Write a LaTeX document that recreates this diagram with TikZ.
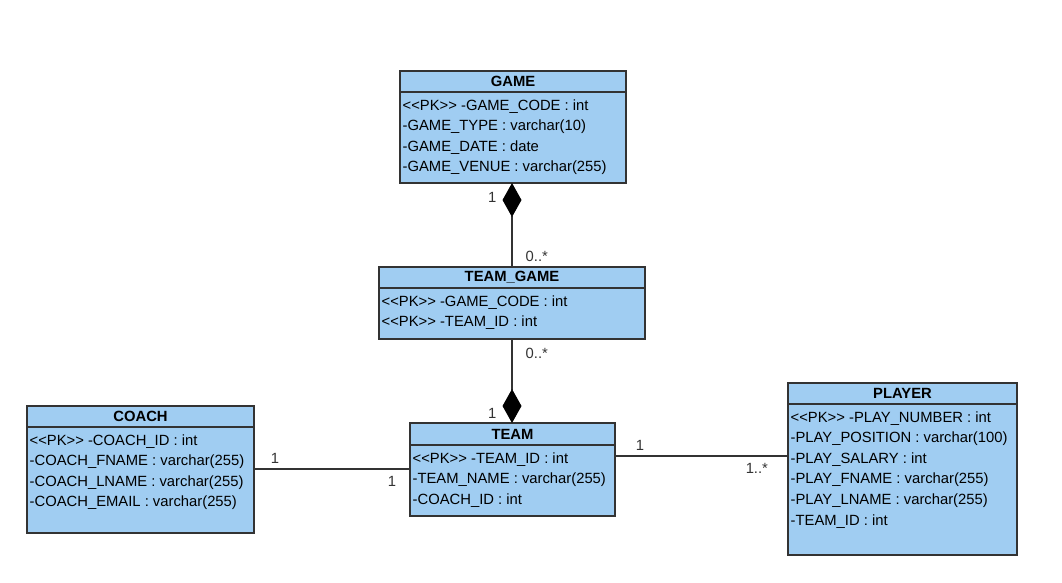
\documentclass[tikz,border=0pt]{standalone}
\usepackage{fontspec}
\setmainfont{Liberation Sans}
\usepackage{tikz}
\usetikzlibrary{positioning}
\usetikzlibrary{arrows.meta}
\definecolor{classblue}{HTML}{A0CDF2}
\definecolor{edge}{HTML}{333333}

\begin{document}
\begin{tikzpicture}[x = 1pt, y = -1pt, line width = 1.3pt,
        head/.style = {rectangle, draw = edge, fill = classblue, outer sep = 0pt, inner sep = 0pt, minimum height = 21pt, font = \fontsize{14.8}{17}\selectfont\bfseries},
        body/.style = {rectangle, draw = edge, fill = classblue, outer sep = 0pt, inner sep = 0pt},
        attrs/.style = {align = left, inner xsep = 2pt, inner ysep = 3pt, font = \fontsize{14.8}{20.6}\selectfont},
        mult/.style = {inner sep = 1pt, font = \fontsize{14.8}{17}\selectfont},
        comp/.style = {-{Diamond[length = 34pt, width = 19pt, color = black, fill = black]}}]
        \useasboundingbox (0, 0) rectangle (1062, 582);

        \node (game) [head, minimum width = 226pt] at (513, 81.5) {GAME};
        \node (gamebody) [body, minimum width = 226pt, minimum height = 91pt, below = 0pt of game] {};
        \node (gameattr) [attrs, below right = 0pt of gamebody.north west] {\strut<{}<PK>{}> -GAME\_CODE : int\\-GAME\_TYPE : varchar(10)\\-GAME\_DATE : date\\-GAME\_VENUE : varchar(255)};

        \node (teamgame) [head, minimum width = 266pt] at (512, 277.5) {TEAM\_GAME};
        \node (teamgamebody) [body, minimum width = 266pt, minimum height = 51pt, below = 0pt of teamgame] {};
        \node (teamgameattr) [attrs, below right = 0pt of teamgamebody.north west] {\strut<{}<PK>{}> -GAME\_CODE : int\\<{}<PK>{}> -TEAM\_ID : int};

        \node (team) [head, minimum width = 205pt, minimum height = 22pt] at (512.5, 434) {TEAM};
        \node (teambody) [body, minimum width = 205pt, minimum height = 71pt, below = 0pt of team] {};
        \node (teamattr) [attrs, below right = 0pt of teambody.north west] {\strut<{}<PK>{}> -TEAM\_ID : int\\-TEAM\_NAME : varchar(255)\\-COACH\_ID : int};

        \node (coach) [head, minimum width = 227pt] at (140.5, 416.5) {COACH};
        \node (coachbody) [body, minimum width = 227pt, minimum height = 106pt, below = 0pt of coach] {};
        \node (coachattr) [attrs, below right = 0pt of coachbody.north west] {\strut<{}<PK>{}> -COACH\_ID : int\\-COACH\_FNAME : varchar(255)\\-COACH\_LNAME : varchar(255)\\-COACH\_EMAIL : varchar(255)};

        \node (player) [head, minimum width = 229pt] at (902.5, 393.5) {PLAYER};
        \node (playerbody) [body, minimum width = 229pt, minimum height = 151pt, below = 0pt of player] {};
        \node (playerattr) [attrs, below right = 0pt of playerbody.north west] {\strut<{}<PK>{}> -PLAY\_NUMBER : int\\-PLAY\_POSITION : varchar(100)\\-PLAY\_SALARY : int\\-PLAY\_FNAME : varchar(255)\\-PLAY\_LNAME : varchar(255)\\-TEAM\_ID : int};

        \draw[comp, edge] (teamgame.north) -- (teamgame.north |- gamebody.south)
            node[mult, pos = .13, right = 12pt] {0..*}
            node[mult, pos = .83, left = 14pt] {1};
        \draw[comp, edge] (teamgamebody.south) -- (teamgamebody.south |- team.north)
            node[mult, pos = .17, right = 12pt] {0..*}
            node[mult, pos = .88, left = 14pt] {1};
        \draw[edge] ([yshift = 11pt]coachbody.east) -- ([yshift = 11pt]coachbody.east -| teambody.west)
            node[mult, pos = .135, above = 4pt] {1}
            node[mult, pos = .885, below = 6pt] {1};
        \draw[edge] ([yshift = 24.5pt]teambody.east) -- ([yshift = 24.5pt]teambody.east -| playerbody.west)
            node[mult, pos = .145, above = 4pt] {1}
            node[mult, pos = .82, below = 6pt] {1..*};
    \end{tikzpicture}
\end{document}
